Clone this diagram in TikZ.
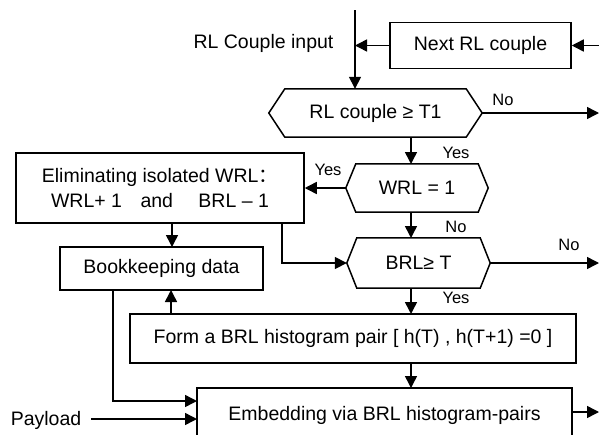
\documentclass[tikz,border=0pt]{standalone}
\usepackage{fontspec}
\setmainfont{Liberation Sans}
\newfontfamily\cjk{Noto Sans CJK SC}
\usetikzlibrary{arrows.meta,calc}
\tikzset{
  main/.style={font=\fontsize{19.5}{25}\selectfont},
  lbl/.style={font=\fontsize{16.5}{18}\selectfont, inner sep=0pt},
  boxn/.style={main, draw, line width=1.5pt, inner sep=0pt, align=center},
  hexn/.style={main, inner sep=0pt},
  conn/.style={line width=1.5pt, -{Triangle[length=12pt,width=12pt]}},
}
\newcommand\hexpath[2]{\draw[line width=1.5pt] (#1.west) -- ([xshift=#2]#1.north west) -- ([xshift=-#2]#1.north east) -- (#1.east) -- ([xshift=-#2]#1.south east) -- ([xshift=#2]#1.south west) -- cycle;}
\begin{document}
\begin{tikzpicture}[x=1pt,y=-1pt]
\useasboundingbox (0,0) rectangle (599,434);
\clip (0,0) rectangle (599,434);
% nodes
\node[main, inner sep=0pt] (inp) at (263.5,43) {RL Couple input};
\node[boxn, minimum width=181pt, minimum height=46pt] (next) at (480.5,45.5) {Next RL couple};
\node[hexn, minimum width=213pt, minimum height=48pt] (h1) at (375.5,113) {RL couple ≥ T1};
\hexpath{h1}{16pt}
\node[hexn, minimum width=142pt, minimum height=48pt] (wrl) at (417,188) {WRL = 1};
\hexpath{wrl}{10pt}
\node[hexn, minimum width=143pt, minimum height=50pt] (brl) at (418.5,263) {BRL≥ T};
\hexpath{brl}{10pt}
\node[boxn, minimum width=288pt, minimum height=70pt] (elim) at (160,188) {Eliminating isolated WRL{\cjk ：}\\WRL+ 1\hspace{0.95em}and\hspace{1.3em}BRL – 1};
\node[boxn, minimum width=203pt, minimum height=43pt] (book) at (161.5,268.5) {Bookkeeping data};
\node[boxn, minimum width=446pt, minimum height=49pt] (form) at (353,338.5) {Form a BRL histogram pair [ h(T) , h(T+1) =0 ]};
\draw[line width=1.5pt] (197,388) rectangle (572,445);
\node[main, inner sep=0pt] (embed) at (384.5,415) {Embedding via BRL histogram-pairs};
\node[main, inner sep=0pt] (pay) at (46,420) {Payload};
% free ends
\coordinate (top) at (355,10);
\coordinate (feed) at (599,45.5);
\coordinate (o1) at (599,113);
\coordinate (o2) at (599,263);
\coordinate (o3) at (599,412);
% connectors
\draw[conn] (top) -- (top |- h1.north);
\draw[conn] (next.west) -- (top |- next.west);
\draw[conn] (feed) -- (next.east);
\draw[conn] (h1.east) -- (o1);
\node[lbl] at (503,100) {No};
\draw[conn] (411,137) -- (411,164);
\node[lbl] at (456,153) {Yes};
\draw[conn] (wrl.west) -- (elim.east);
\node[lbl] at (328,170) {Yes};
\draw[conn] (411,212) -- (411,238);
\node[lbl] at (456,227) {No};
\draw[conn] (282,223) -- (282,263) -- (brl.west);
\draw[conn] (172,223) -- (172,247);
\draw[conn] (brl.east) -- (o2);
\node[lbl] at (569,245) {No};
\draw[conn] (411,288) -- (411,314);
\node[lbl] at (456,298) {Yes};
\draw[conn] (171,314) -- (171,290);
\draw[conn] (411,363) -- (411,388);
\draw[conn] (113,290) -- (113,401) -- (197,401);
\draw[conn] (pay.east -| 91,0) ++(0,-1) -- (197,419);
\draw[conn] (572,412) -- (o3);
\end{tikzpicture}
\end{document}
